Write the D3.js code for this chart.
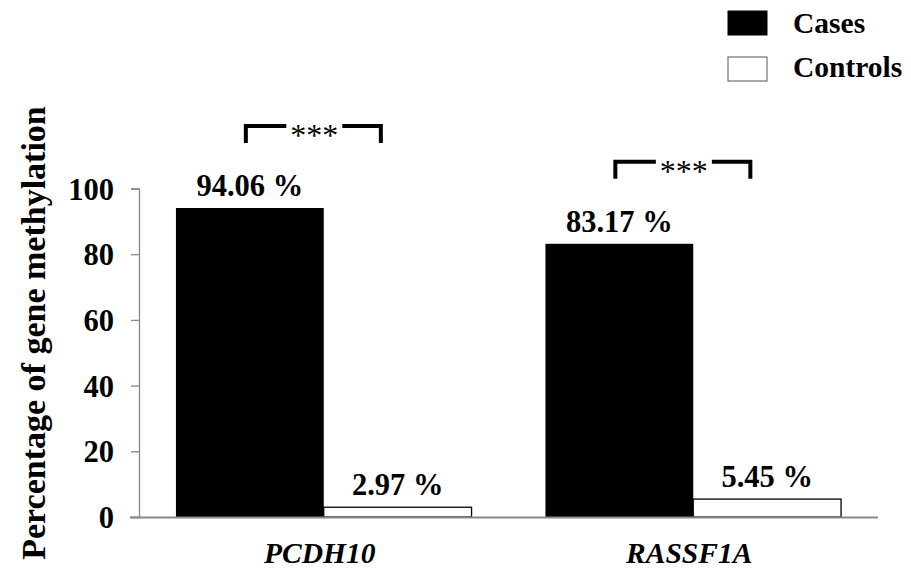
<!DOCTYPE html>
<html>
<head>
<meta charset="utf-8">
<script src="https://cdn.jsdelivr.net/npm/d3@7"></script>
<style>
  body { margin: 0; background: #fff; }
</style>
</head>
<body>
<div id="chart"></div>
<script>
const genes = ["PCDH10", "RASSF1A"];
const groups = ["Cases", "Controls"];
const casesValues = [94.06, 83.17];
const controlsValues = [2.97, 5.45];
const valueLabels = [["94.06 %", "2.97 %"], ["83.17 %", "5.45 %"]];
const yTicks = [0, 20, 40, 60, 80, 100];
const significance = ["***", "***"];

const FONT = "'Liberation Serif', 'Times New Roman', Times, serif";
const width = 911, height = 573;
const margin = { top: 188.5, right: 33, bottom: 56, left: 139 };

let svg = d3.select("#chart").append("svg")
    .attr("width", width)
    .attr("height", height);

var x = d3.scaleBand()
    .domain(genes)
    .range([margin.left, width - margin.right])
    .paddingInner(0.2)
    .paddingOuter(0.1);

var xInner = d3.scaleBand()
    .domain(groups)
    .range([0, x.bandwidth()]);

var y = d3.scaleLinear()
    .domain([0, 100])
    .range([height - margin.bottom, margin.top]);

let data = genes.map((g, i) => ({
    gene: g,
    values: [
        { group: "Cases", value: casesValues[i], label: valueLabels[i][0] },
        { group: "Controls", value: controlsValues[i], label: valueLabels[i][1] }
    ]
}));

function serif(sel, size) {
    return sel.style("font-family", FONT)
        .style("font-weight", "bold")
        .style("font-size", size + "px")
        .attr("fill", "#000");
}

// y axis
let yAxis = svg.append("g")
    .attr("transform", "translate(" + margin.left + ",0)")
    .call(d3.axisLeft(y).tickValues(yTicks).tickSize(8).tickPadding(17));
yAxis.select(".domain").attr("stroke", "#888").attr("stroke-width", 1.3);
yAxis.selectAll(".tick line").attr("stroke", "#888").attr("stroke-width", 1.3);
serif(yAxis.selectAll("text"), 30.5).attr("dy", "0.35em");

// bars
let gGroup = svg.selectAll(".gene")
    .data(data)
    .enter().append("g")
    .attr("class", "gene")
    .attr("transform", d => "translate(" + x(d.gene) + ",0)");

gGroup.selectAll("rect")
    .data(d => d.values)
    .enter().append("rect")
    .attr("x", d => xInner(d.group))
    .attr("y", d => y(d.value))
    .attr("width", xInner.bandwidth())
    .attr("height", d => y(0) - y(d.value))
    .attr("fill", d => d.group === "Cases" ? "#000" : "#fff")
    .attr("stroke", "#000")
    .attr("stroke-width", d => d.group === "Cases" ? 0 : 1.3);

serif(gGroup.selectAll(".val")
    .data(d => d.values)
    .enter().append("text")
    .attr("class", "val")
    .attr("x", d => xInner(d.group) + xInner.bandwidth() / 2)
    .attr("y", d => y(d.value) - 12)
    .attr("text-anchor", "middle")
    .text(d => d.label), 30.5);

// x axis line
svg.append("line")
    .attr("x1", margin.left - 9)
    .attr("x2", width - margin.right)
    .attr("y1", y(0) + 0.5)
    .attr("y2", y(0) + 0.5)
    .attr("stroke", "#888")
    .attr("stroke-width", 2);

// category labels
serif(svg.selectAll(".cat")
    .data(genes)
    .enter().append("text")
    .attr("class", "cat")
    .attr("x", d => x(d) + x.bandwidth() / 2 - 4)
    .attr("y", 563)
    .attr("text-anchor", "middle")
    .text(d => d), 29.5)
    .style("font-style", "italic");

// significance brackets
data.forEach((d, i) => {
    let left = x(d.gene) + xInner.bandwidth() / 2 - 4;
    let right = left + 135;
    let top = y(d.values[0].value) - 82;
    let mid = (left + right) / 2;
    let b = svg.append("g");
    b.append("path")
        .attr("d", "M" + left + "," + (top + 17) + "V" + top + "H" + (mid - 27))
        .attr("fill", "none").attr("stroke", "#000").attr("stroke-width", 4);
    b.append("path")
        .attr("d", "M" + (mid + 29) + "," + top + "H" + right + "V" + (top + 17))
        .attr("fill", "none").attr("stroke", "#000").attr("stroke-width", 4);
    serif(b.append("text")
        .attr("x", mid + 1)
        .attr("y", top + 20)
        .attr("text-anchor", "middle")
        .text(significance[i]), 32)
        .style("font-weight", "normal");
});

// y axis title
serif(svg.append("text")
    .attr("transform", "translate(45," + 333 + ") rotate(-90)")
    .attr("text-anchor", "middle")
    .text("Percentage of gene methylation"), 34);

// legend
let legend = svg.append("g");
groups.forEach((g, i) => {
    legend.append("rect")
        .attr("x", 728)
        .attr("y", 11 + i * 46)
        .attr("width", 39)
        .attr("height", 24)
        .attr("fill", g === "Cases" ? "#000" : "#fff")
        .attr("stroke", g === "Cases" ? "#000" : "#555")
        .attr("stroke-width", 1);
    serif(legend.append("text")
        .attr("x", 793)
        .attr("y", 33 + i * 44)
        .text(g), 29.5);
});
</script>
</body>
</html>
